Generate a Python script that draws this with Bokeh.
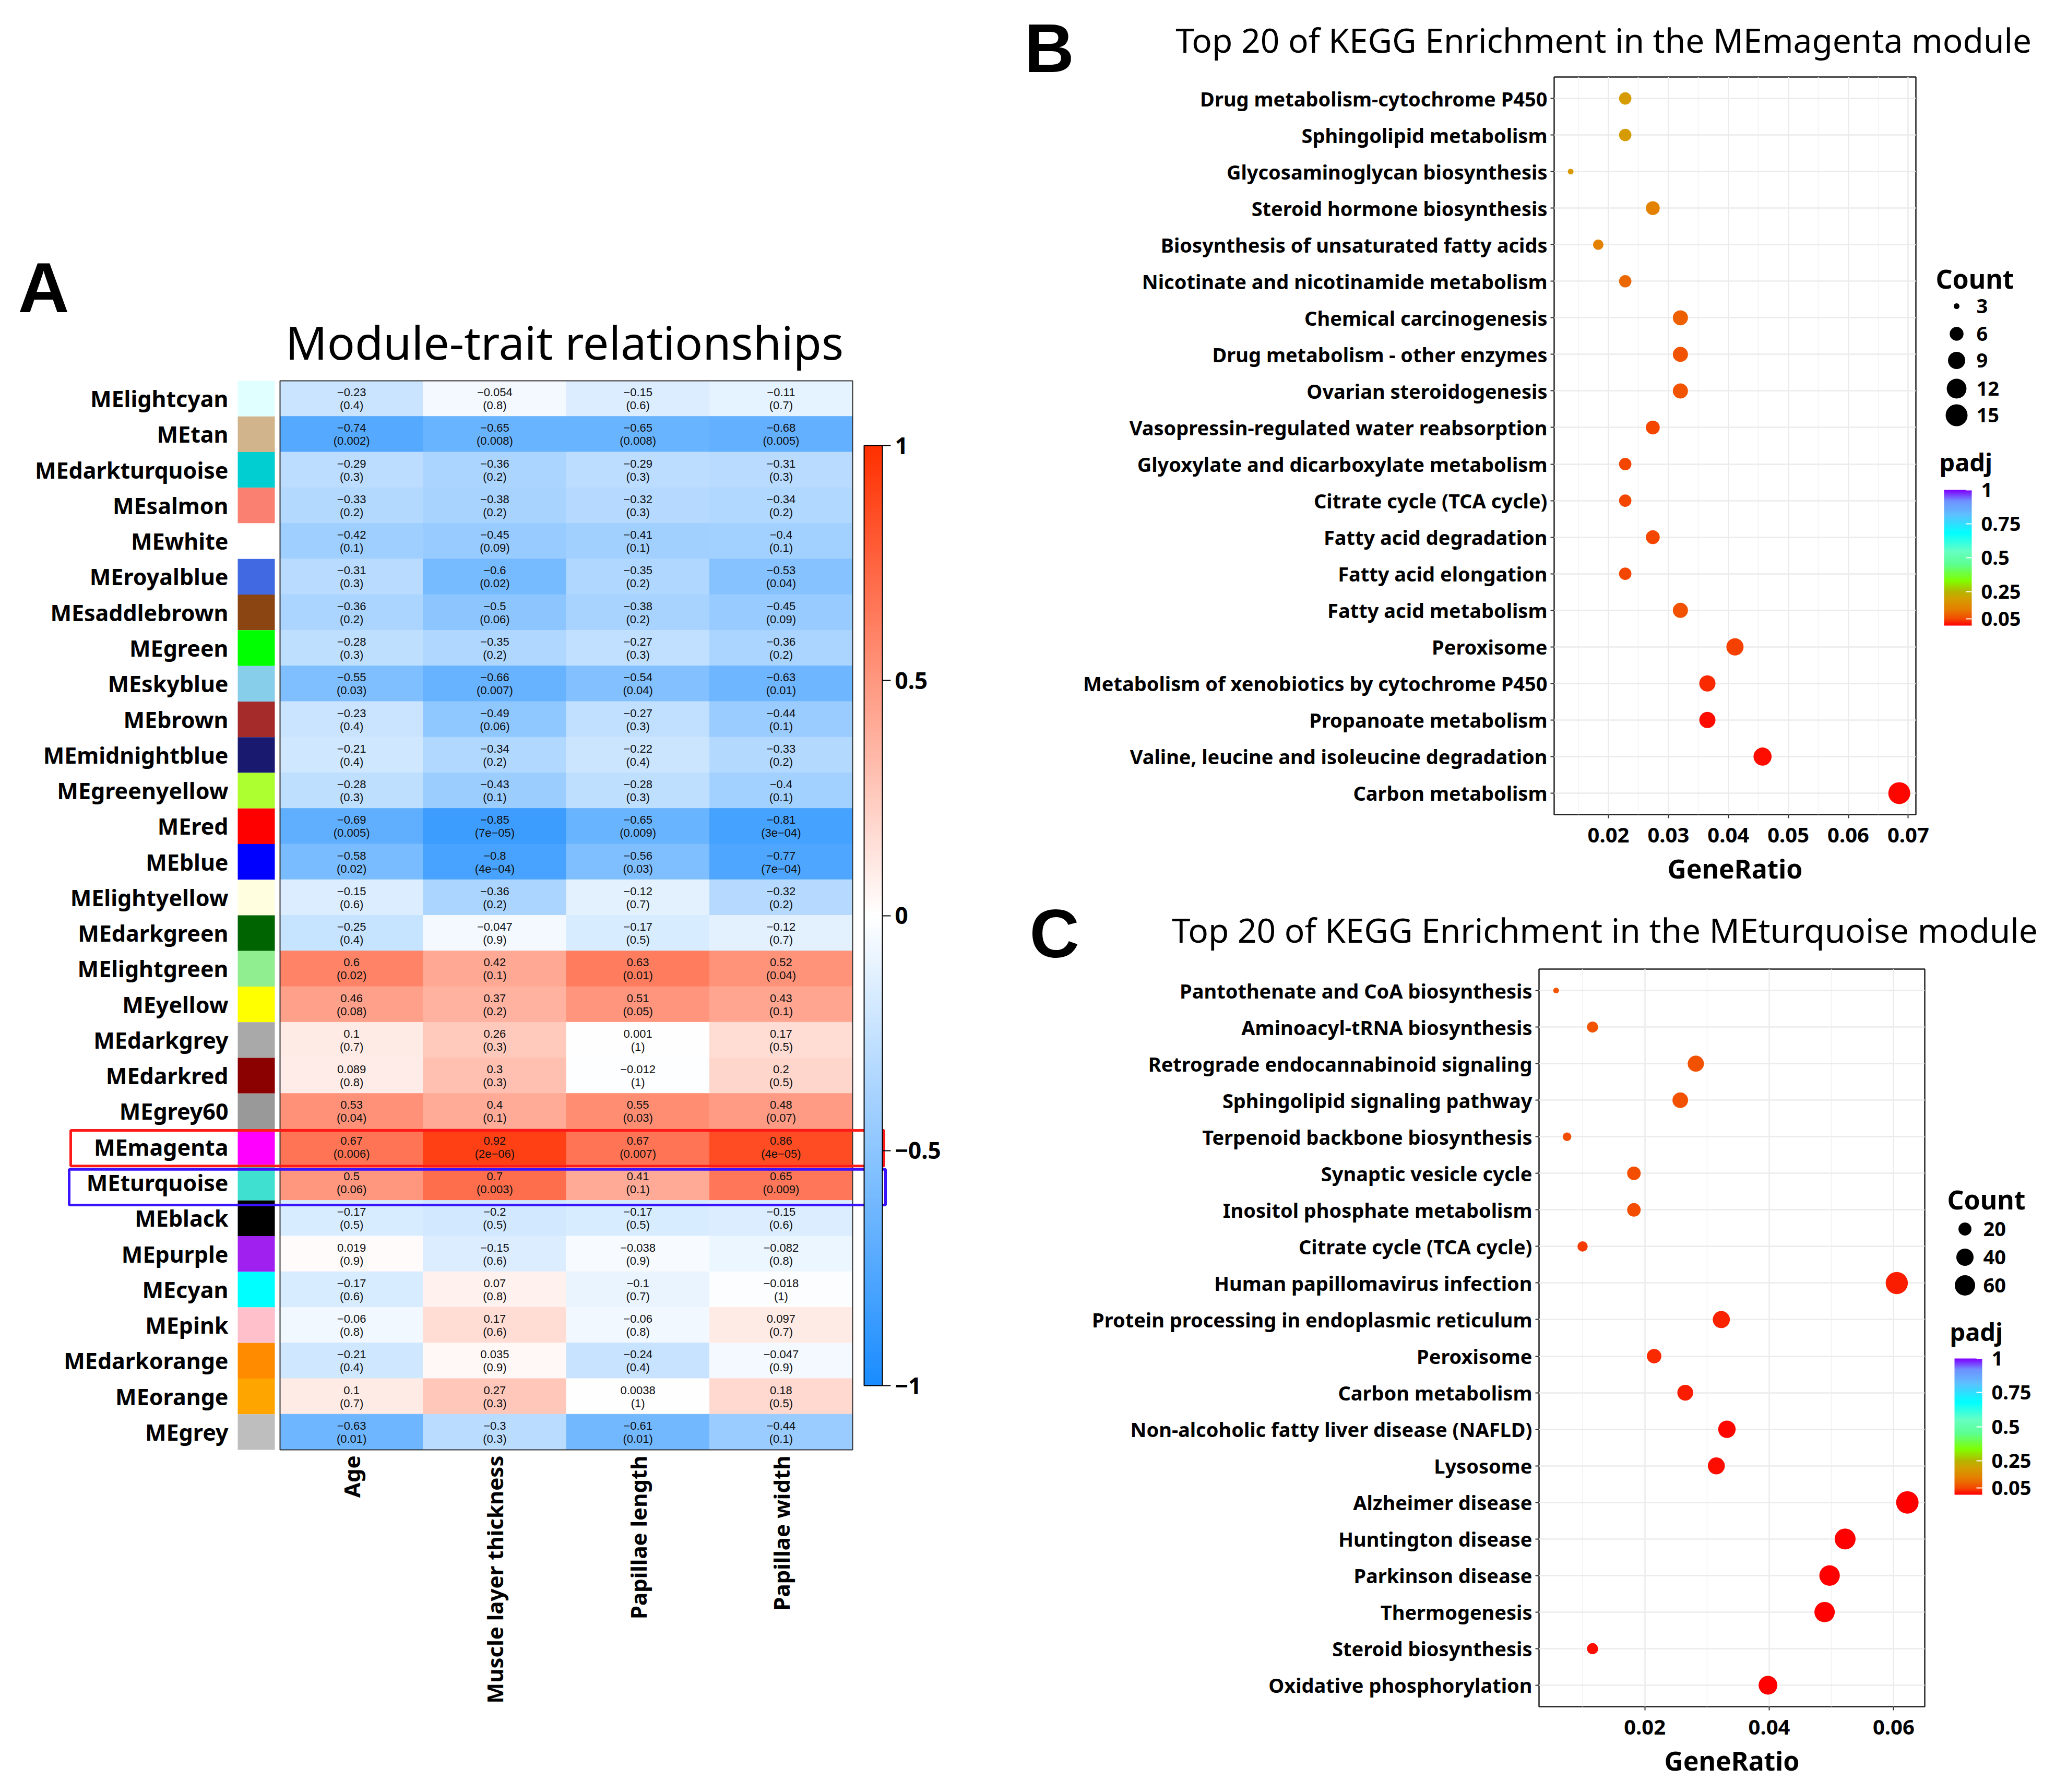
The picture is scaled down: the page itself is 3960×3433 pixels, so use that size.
import math
from bokeh.plotting import figure
from bokeh.models import (ColumnDataSource, Range1d, FactorRange, LinearColorMapper,
                          ColorBar, FixedTicker, Label, BoxAnnotation)
from bokeh.layouts import row, column
from bokeh.embed import file_html
from bokeh.resources import INLINE
from bokeh.core.properties import value
from bokeh.core.validation import silence
from bokeh.core.validation.warnings import MISSING_RENDERERS

silence(MISSING_RENDERERS, True)

# ---------------- Panel A data ----------------
modules = ["MElightcyan", "MEtan", "MEdarkturquoise", "MEsalmon", "MEwhite", "MEroyalblue",
           "MEsaddlebrown", "MEgreen", "MEskyblue", "MEbrown", "MEmidnightblue", "MEgreenyellow",
           "MEred", "MEblue", "MElightyellow", "MEdarkgreen", "MElightgreen", "MEyellow",
           "MEdarkgrey", "MEdarkred", "MEgrey60", "MEmagenta", "MEturquoise", "MEblack",
           "MEpurple", "MEcyan", "MEpink", "MEdarkorange", "MEorange", "MEgrey"]
module_colors = ["#E0FFFF", "#D2B48C", "#00CED1", "#FA8072", "#FFFFFF", "#4169E1",
                 "#8B4513", "#00FF00", "#87CEEB", "#A52A2A", "#191970", "#ADFF2F",
                 "#FF0000", "#0000FF", "#FFFFE0", "#006400", "#90EE90", "#FFFF00",
                 "#A9A9A9", "#8B0000", "#999999", "#FF00FF", "#40E0D0", "#000000",
                 "#A020F0", "#00FFFF", "#FFC0CB", "#FF8C00", "#FFA500", "#BEBEBE"]
traits = ["Age", "Muscle layer thickness", "Papillae length", "Papillae width"]

cor_age = [-0.23, -0.74, -0.29, -0.33, -0.42, -0.31, -0.36, -0.28, -0.55, -0.23, -0.21, -0.28,
           -0.69, -0.58, -0.15, -0.25, 0.6, 0.46, 0.1, 0.089, 0.53, 0.67, 0.5, -0.17,
           0.019, -0.17, -0.06, -0.21, 0.1, -0.63]
cor_muscle = [-0.054, -0.65, -0.36, -0.38, -0.45, -0.6, -0.5, -0.35, -0.66, -0.49, -0.34, -0.43,
              -0.85, -0.8, -0.36, -0.047, 0.42, 0.37, 0.26, 0.3, 0.4, 0.92, 0.7, -0.2,
              -0.15, 0.07, 0.17, 0.035, 0.27, -0.3]
cor_plen = [-0.15, -0.65, -0.29, -0.32, -0.41, -0.35, -0.38, -0.27, -0.54, -0.27, -0.22, -0.28,
            -0.65, -0.56, -0.12, -0.17, 0.63, 0.51, 0.001, -0.012, 0.55, 0.67, 0.41, -0.17,
            -0.038, -0.1, -0.06, -0.24, 0.0038, -0.61]
cor_pwid = [-0.11, -0.68, -0.31, -0.34, -0.4, -0.53, -0.45, -0.36, -0.63, -0.44, -0.33, -0.4,
            -0.81, -0.77, -0.32, -0.12, 0.52, 0.43, 0.17, 0.2, 0.48, 0.86, 0.65, -0.15,
            -0.082, -0.018, 0.097, -0.047, 0.18, -0.44]
p_age = ["0.4", "0.002", "0.3", "0.2", "0.1", "0.3", "0.2", "0.3", "0.03", "0.4", "0.4", "0.3",
         "0.005", "0.02", "0.6", "0.4", "0.02", "0.08", "0.7", "0.8", "0.04", "0.006", "0.06", "0.5",
         "0.9", "0.6", "0.8", "0.4", "0.7", "0.01"]
p_muscle = ["0.8", "0.008", "0.2", "0.2", "0.09", "0.02", "0.06", "0.2", "0.007", "0.06", "0.2", "0.1",
            "7e-05", "4e-04", "0.2", "0.9", "0.1", "0.2", "0.3", "0.3", "0.1", "2e-06", "0.003", "0.5",
            "0.6", "0.8", "0.6", "0.9", "0.3", "0.3"]
p_plen = ["0.6", "0.008", "0.3", "0.3", "0.1", "0.2", "0.2", "0.3", "0.04", "0.3", "0.4", "0.3",
          "0.009", "0.03", "0.7", "0.5", "0.01", "0.05", "1", "1", "0.03", "0.007", "0.1", "0.5",
          "0.9", "0.7", "0.8", "0.4", "1", "0.01"]
p_pwid = ["0.7", "0.005", "0.3", "0.2", "0.1", "0.04", "0.09", "0.2", "0.01", "0.1", "0.2", "0.1",
          "3e-04", "7e-04", "0.2", "0.7", "0.04", "0.1", "0.5", "0.5", "0.07", "4e-05", "0.009", "0.6",
          "0.8", "1", "0.7", "0.9", "0.5", "0.1"]
heat_ticks = [-1, -0.5, 0, 0.5, 1]

# ---------------- Panel B data ----------------
kegg_b_terms = ["Drug metabolism-cytochrome P450", "Sphingolipid metabolism",
                "Glycosaminoglycan biosynthesis", "Steroid hormone biosynthesis",
                "Biosynthesis of unsaturated fatty acids", "Nicotinate and nicotinamide metabolism",
                "Chemical carcinogenesis", "Drug metabolism - other enzymes",
                "Ovarian steroidogenesis", "Vasopressin-regulated water reabsorption",
                "Glyoxylate and dicarboxylate metabolism", "Citrate cycle (TCA cycle)",
                "Fatty acid degradation", "Fatty acid elongation", "Fatty acid metabolism",
                "Peroxisome", "Metabolism of xenobiotics by cytochrome P450",
                "Propanoate metabolism", "Valine, leucine and isoleucine degradation",
                "Carbon metabolism"]
kegg_b_ratio = [0.0228, 0.0228, 0.0137, 0.0274, 0.0183, 0.0228, 0.0320, 0.0320, 0.0320, 0.0274,
                0.0228, 0.0228, 0.0274, 0.0228, 0.0320, 0.0411, 0.0365, 0.0365, 0.0457, 0.0685]
kegg_b_count = [5, 5, 3, 6, 4, 5, 7, 7, 7, 6, 5, 5, 6, 5, 7, 9, 8, 8, 10, 15]
kegg_b_padj = [0.19, 0.19, 0.18, 0.13, 0.13, 0.09, 0.08, 0.065, 0.065, 0.05,
               0.05, 0.05, 0.05, 0.05, 0.06, 0.045, 0.03, 0.01, 0.01, 0.004]
kegg_b_legend = [3, 6, 9, 12, 15]
kegg_b_xticks = [0.02, 0.03, 0.04, 0.05, 0.06, 0.07]

# ---------------- Panel C data ----------------
kegg_c_terms = ["Pantothenate and CoA biosynthesis", "Aminoacyl-tRNA biosynthesis",
                "Retrograde endocannabinoid signaling", "Sphingolipid signaling pathway",
                "Terpenoid backbone biosynthesis", "Synaptic vesicle cycle",
                "Inositol phosphate metabolism", "Citrate cycle (TCA cycle)",
                "Human papillomavirus infection", "Protein processing in endoplasmic reticulum",
                "Peroxisome", "Carbon metabolism", "Non-alcoholic fatty liver disease (NAFLD)",
                "Lysosome", "Alzheimer disease", "Huntington disease", "Parkinson disease",
                "Thermogenesis", "Steroid biosynthesis", "Oxidative phosphorylation"]
kegg_c_ratio = [0.00575, 0.0116, 0.0282, 0.0257, 0.0075, 0.01825, 0.01825, 0.0100, 0.0605, 0.0323,
                0.0215, 0.0265, 0.0332, 0.0315, 0.0622, 0.0522, 0.0497, 0.0489, 0.0116, 0.0398]
kegg_c_count = [7, 14, 34, 31, 9, 22, 22, 12, 74, 39, 26, 32, 41, 38, 76, 64, 61, 60, 14, 49]
kegg_c_padj = [0.065, 0.065, 0.06, 0.06, 0.055, 0.055, 0.055, 0.04, 0.02, 0.025,
               0.03, 0.02, 0.005, 0.01, 0.001, 0.002, 0.002, 0.002, 0.008, 0.001]
kegg_c_legend = [20, 40, 60]
kegg_c_xticks = [0.02, 0.04, 0.06]
padj_ticks = [0.05, 0.25, 0.5, 0.75, 1]

# ---------------- helpers ----------------
def build_palette(stops, n=256):
    out = []
    for i in range(n):
        t = i / (n - 1)
        for (p0, c0), (p1, c1) in zip(stops[:-1], stops[1:]):
            if p0 <= t <= p1:
                f = (t - p0) / (p1 - p0)
                a = [int(c0[k:k + 2], 16) for k in (1, 3, 5)]
                b = [int(c1[k:k + 2], 16) for k in (1, 3, 5)]
                out.append("#%02x%02x%02x" % tuple(round(a[q] + (b[q] - a[q]) * f) for q in range(3)))
                break
    return out

heat_palette = build_palette([(0, "#1A8CFF"), (0.5, "#FFFFFF"), (1, "#FF3000")])
padj_palette = build_palette([(0.0, "#FF0000"), (0.05, "#F44A00"), (0.12, "#E57E00"),
                              (0.2, "#D2A000"), (0.25, "#B5B500"), (0.33, "#80FF00"),
                              (0.45, "#5CFF90"), (0.55, "#66FFC4"), (0.68, "#00FFFF"),
                              (0.82, "#5FBFFF"), (0.92, "#7090FF"), (1.0, "#8000FF")])

def fmt_num(v):
    return f"{v:g}".replace("-", "\u2212")

UI = "Noto Sans"
ARIAL = "Liberation Sans"

def blank_fig(width, height):
    p = figure(width=width, height=height, x_range=Range1d(0, 1), y_range=Range1d(0, 1),
               output_backend="svg", toolbar_location=None, min_border=0,
               x_axis_location=None, y_axis_location=None)
    p.grid.visible = False
    p.outline_line_color = None
    return p

# ---------------- Panel A figure (frame = whole canvas) ----------------
SX = 274.25               # px per heatmap column
RH = 2048 / 30            # px per heatmap row
HX0, HY0 = 544, 737       # heatmap top-left (page px)
A_L, A_R, A_T, A_B = 8, 1958, 8, 3425

def ax_(px):
    return (px - HX0) / SX

def ay_(py):
    return (py - HY0) / RH

pA = figure(width=A_R - A_L, height=A_B - A_T,
            x_range=Range1d(ax_(A_L), ax_(A_R)), y_range=Range1d(ay_(A_B), ay_(A_T)),
            output_backend="svg", toolbar_location=None, min_border=0,
            x_axis_location=None, y_axis_location=None)
pA.grid.visible = False
pA.outline_line_color = None
pA.background_fill_color = "white"

cols = [cor_age, cor_muscle, cor_plen, cor_pwid]
pcols = [p_age, p_muscle, p_plen, p_pwid]
hx, hy, hr, t1, t2 = [], [], [], [], []
for j in range(len(traits)):
    for i in range(len(modules)):
        hx.append(j + 0.5)
        hy.append(i + 0.5)
        hr.append(cols[j][i])
        t1.append(fmt_num(cols[j][i]))
        t2.append("(" + pcols[j][i].replace("-", "\u2212") + ")")
hsrc = ColumnDataSource(dict(x=hx, y=hy, r=hr, t1=t1, t2=t2))
heat_mapper = LinearColorMapper(palette=heat_palette, low=-1, high=1)
pA.rect("x", "y", width=1, height=1, source=hsrc,
        fill_color={"field": "r", "transform": heat_mapper},
        line_color={"field": "r", "transform": heat_mapper}, line_width=1)
pA.text("x", "y", text="t1", source=hsrc, y_offset=-12, text_align="center",
        text_baseline="middle", text_font=value(ARIAL), text_font_size="22px",
        text_color="#111111")
pA.text("x", "y", text="t2", source=hsrc, y_offset=13, text_align="center",
        text_baseline="middle", text_font=value(ARIAL), text_font_size="22px",
        text_color="#111111")

row_y = [i + 0.5 for i in range(len(modules))]
pA.rect(x=ax_((463 + 534) / 2), y=row_y, width=71 / SX, height=1,
        fill_color=module_colors, line_color=None)
pA.text(x=ax_(445), y=row_y, text=modules, text_align="right",
        text_baseline="middle", text_font=value(UI), text_font_style="bold",
        text_font_size="43px", text_color="black")

# trait labels (vertical, reading upward, ending just under the heatmap)
pA.text(x=[j + 0.5 for j in range(len(traits))],
        y=[len(modules) + ay_(2796) - ay_(2785)] * len(traits),
        text=traits, angle=math.pi / 2, text_align="right", text_baseline="middle",
        text_font=value(UI), text_font_style="bold", text_font_size="42px",
        text_color="black")

pA.add_layout(BoxAnnotation(left=0, right=len(traits), top=0, bottom=len(modules),
                            fill_color=None, line_color="#333333", line_width=2, line_alpha=1))
k_mag = modules.index("MEmagenta")
k_tur = modules.index("MEturquoise")
pA.add_layout(BoxAnnotation(left=ax_(143), right=ax_(1701), top=k_mag + 0.035,
                            bottom=k_mag + 1.035, fill_color=None, line_color="#FF1A1A",
                            line_width=5, line_alpha=1))
pA.add_layout(BoxAnnotation(left=ax_(140), right=ax_(1704), top=k_tur + 0.13,
                            bottom=k_tur + 1.13, fill_color=None, line_color="#3A14FF",
                            line_width=5, line_alpha=1))

cbA = ColorBar(color_mapper=heat_mapper, location=(1663 - A_L, A_B - 2662),
               orientation="vertical", width=35, height=1801, padding=0,
               ticker=FixedTicker(ticks=heat_ticks),
               major_label_overrides={t: fmt_num(t) for t in heat_ticks},
               major_label_text_font=UI, major_label_text_font_style="bold",
               major_label_text_font_size="44px", major_label_text_color="black",
               major_tick_in=0, major_tick_out=16, major_tick_line_color="black",
               major_tick_line_width=2, minor_tick_line_color=None, label_standoff=8,
               bar_line_color="black", bar_line_width=2,
               background_fill_color=None, border_line_color=None)
pA.add_layout(cbA, "center")

pA.add_layout(Label(x=1089 - A_L, y=A_B - 662, x_units="screen", y_units="screen",
                    text="Module-trait relationships", text_align="center",
                    text_baseline="middle", text_font=UI, text_font_size="88px",
                    text_color="black"))
pA.add_layout(Label(x=42 - A_L, y=A_B - 558, x_units="screen", y_units="screen",
                    text="A", text_align="left", text_baseline="middle",
                    text_font=ARIAL, text_font_style="bold",
                    text_font_size="136px", text_color="black"))

# ---------------- panel letters B and C (own full-height strip) ----------------
L_L, L_R = 1958, 2075
pL = blank_fig(L_R - L_L, A_B - A_T)
pL.add_layout(Label(x=12, y=A_B - 100, x_units="screen", y_units="screen", text="B",
                    text_baseline="middle", text_font=ARIAL, text_font_style="bold",
                    text_font_size="132px", text_color="black"))
pL.add_layout(Label(x=22, y=A_B - 1796, x_units="screen", y_units="screen", text="C",
                    text_baseline="middle", text_font=ARIAL, text_font_style="bold",
                    text_font_size="132px", text_color="black"))

# ---------------- dot plots ----------------
def size_fn(c, cmin, cmax, d0, d1):
    return d0 + (d1 - d0) * math.sqrt((c - cmin) / (cmax - cmin))

padj_mapper = LinearColorMapper(palette=padj_palette, low=0, high=1)

def dot_plot(terms, ratio, count, padj, xlo, xhi, xticks, width, height, bl, br, bt, bb, d0, d1):
    cmin, cmax = min(count), max(count)
    src = ColumnDataSource(dict(term=terms, ratio=ratio, padj=padj,
                                size=[size_fn(c, cmin, cmax, d0, d1) for c in count]))
    p = figure(width=width, height=height, x_range=Range1d(xlo, xhi),
               y_range=FactorRange(factors=terms[::-1], range_padding=0.086,
                                   range_padding_units="absolute"),
               output_backend="svg", toolbar_location=None,
               min_border_left=bl, min_border_right=br, min_border_top=bt, min_border_bottom=bb)
    step = xticks[1] - xticks[0]
    minor = [xticks[0] - step / 2] + [t + step / 2 for t in xticks]
    p.xaxis.ticker = FixedTicker(ticks=xticks, minor_ticks=minor)
    p.xgrid.grid_line_color = "#EBEBEB"
    p.xgrid.grid_line_width = 2.5
    p.xgrid.minor_grid_line_color = "#F2F2F2"
    p.xgrid.minor_grid_line_width = 1.5
    p.ygrid.grid_line_color = "#EBEBEB"
    p.ygrid.grid_line_width = 2.5
    p.outline_line_color = "#222222"
    p.outline_line_width = 2.5
    p.scatter("ratio", "term", size="size", source=src,
              fill_color={"field": "padj", "transform": padj_mapper}, line_color=None)
    for ax in (p.xaxis[0], p.yaxis[0]):
        ax.axis_line_color = None
        ax.major_tick_in = 0
        ax.major_tick_out = 7
        ax.major_tick_line_color = "#333333"
        ax.major_tick_line_width = 2
        ax.minor_tick_line_color = None
        ax.major_label_text_color = "black"
        ax.major_label_text_font_style = "bold"
        ax.major_label_text_font = UI
    p.yaxis.major_label_text_font_size = "38px"
    p.yaxis.major_label_standoff = 6
    p.xaxis.major_label_text_font_size = "40px"
    p.xaxis.major_label_standoff = 18
    p.xaxis.axis_label = "GeneRatio"
    p.xaxis.axis_label_text_font = UI
    p.xaxis.axis_label_text_font_style = "bold"
    p.xaxis.axis_label_text_font_size = "50px"
    p.xaxis.axis_label_text_color = "black"
    p.xaxis.axis_label_standoff = 13
    return p, (cmin, cmax)

def legend_fig(width, height, bt, bb, x0, ftop, fbot, counts, crange, d0, d1,
               count_title, dot_x, dot_ys, lab_x, padj_title, bar_x, bar_top, bar_bottom,
               bar_w, bar_lab_gap):
    # ranges expressed in page pixels of the legend's frame (aligned with its plot's frame)
    p = figure(width=width, height=height, x_range=Range1d(x0, x0 + width),
               y_range=Range1d(fbot, ftop), output_backend="svg", toolbar_location=None,
               min_border_left=0, min_border_right=0, min_border_top=bt, min_border_bottom=bb,
               x_axis_location=None, y_axis_location=None)
    p.grid.visible = False
    p.outline_line_color = None
    p.scatter(x=[dot_x] * len(counts), y=dot_ys,
              size=[size_fn(c, crange[0], crange[1], d0, d1) for c in counts],
              fill_color="black", line_color=None)
    p.text(x=[lab_x] * len(counts), y=dot_ys, text=[str(c) for c in counts],
           text_baseline="middle", text_align="left", text_font=value(UI),
           text_font_style="bold", text_font_size="38px", text_color="black")
    p.text(x=[count_title[0]], y=[count_title[1]], text=["Count"], text_baseline="middle",
           text_align="left", text_font=value(UI), text_font_style="bold",
           text_font_size="50px", text_color="black")
    p.text(x=[padj_title[0]], y=[padj_title[1]], text=["padj"], text_baseline="middle",
           text_align="left", text_font=value(UI), text_font_style="bold",
           text_font_size="47px", text_color="black")
    cb = ColorBar(color_mapper=padj_mapper, location=(bar_x - x0, fbot - bar_bottom),
                  orientation="vertical", width=bar_w, height=bar_bottom - bar_top, padding=0,
                  ticker=FixedTicker(ticks=padj_ticks),
                  major_label_overrides={t: f"{t:g}" for t in padj_ticks},
                  major_label_text_font=UI, major_label_text_font_style="bold",
                  major_label_text_font_size="38px", major_label_text_color="black",
                  major_tick_in=11, major_tick_out=0, major_tick_line_color="white",
                  major_tick_line_width=2, minor_tick_line_color=None,
                  label_standoff=bar_lab_gap, bar_line_color=None,
                  background_fill_color=None, border_line_color=None)
    p.add_layout(cb, "center")
    return p

def header_fig(width, height, title, txy):
    p = blank_fig(width, height)
    p.add_layout(Label(x=txy[0], y=txy[1], x_units="screen", y_units="screen", text=title,
                       text_align="center", text_baseline="middle", text_font=UI,
                       text_font_size="64px", text_color="black"))
    return p

R_W = 3710 - L_R      # plot figure width (page x 2075..3710)
H_W = 3952 - L_R      # header width

# Panel B  (row: page y 150..1710, frame 155..1568, frame x 2985..3678)
pB, crB = dot_plot(kegg_b_terms, kegg_b_ratio, kegg_b_count, kegg_b_padj, 0.01095, 0.07127,
                   kegg_b_xticks, R_W, 1560, 2985 - L_R, 32, 5, 142, 11, 42)
legB = legend_fig(242, 1560, 5, 142, 3710, 155, 1568, kegg_b_legend, crB, 11, 42,
                  (3716, 541), 3756, [594, 647, 698, 752, 803], 3794, (3723, 892),
                  3732, 946, 1206, 53, 18)
hdrB = header_fig(H_W, 142, "Top 20 of KEGG Enrichment  in the MEmagenta module",
                  (3088 - L_R, 150 - 84))

# Panel C  (row: page y 1858..3425, frame 1864..3277, frame x 2956..3695)
pC, crC = dot_plot(kegg_c_terms, kegg_c_ratio, kegg_c_count, kegg_c_padj, 0.0030, 0.0650,
                   kegg_c_xticks, R_W, 1567, 2956 - L_R, 15, 6, 148, 11, 43)
legC = legend_fig(242, 1567, 6, 148, 3710, 1864, 3277, kegg_c_legend, crC, 11, 43,
                  (3738, 2305), 3772, [2362, 2416, 2470], 3807, (3743, 2558),
                  3752, 2610, 2871, 53, 18)
hdrC = header_fig(H_W, 148, "Top 20 of KEGG Enrichment in the MEturquoise module",
                  (3082 - L_R, 1858 - 1789))

layout = row(pA, pL, column(hdrB, row(pB, legB), hdrC, row(pC, legC)))
open("out.html", "w").write(file_html(layout, INLINE, title="Module-trait relationships and KEGG enrichment"))
